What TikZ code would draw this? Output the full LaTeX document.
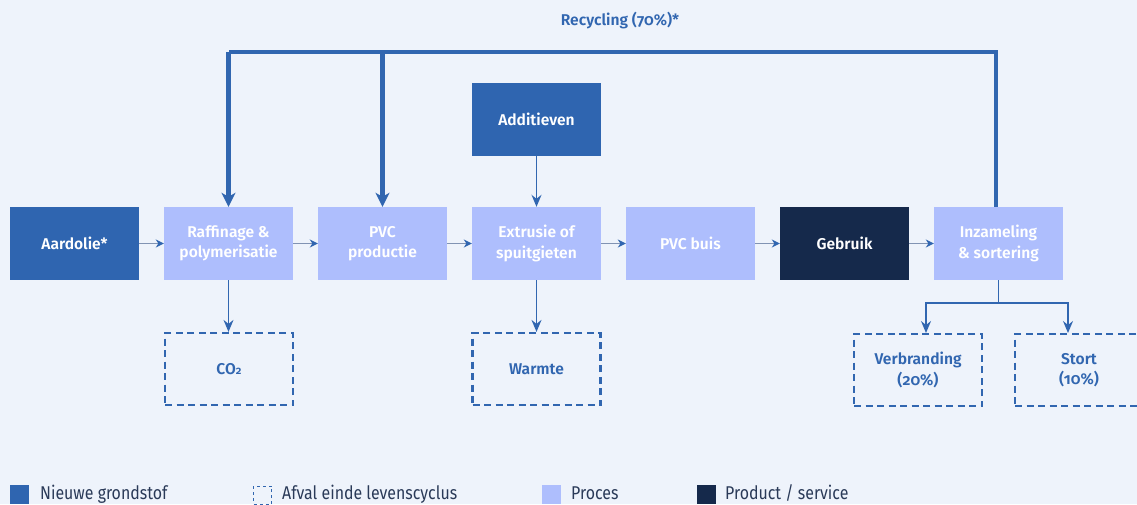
\documentclass[tikz,border=0pt]{standalone}
\usepackage{fontspec}
\setmainfont{Fira Sans}[BoldFont={Fira Sans SemiBold},Numbers=OldStyle]
\newfontfamily\legfont{Fira Sans}[FakeStretch=0.86,Numbers=OldStyle]
\usetikzlibrary{arrows.meta}

\definecolor{bgcol}{HTML}{EEF3FB}
\definecolor{rawblue}{HTML}{2F65B0}
\definecolor{proccol}{HTML}{AEBEFD}
\definecolor{prodcol}{HTML}{15294B}
\definecolor{wastecol}{HTML}{3166B0}
\definecolor{flowgray}{HTML}{8193B3}
\definecolor{legtext}{HTML}{2A3A58}

\tikzset{
  boxlabel/.style={font=\bfseries\fontsize{15.6}{20.5}\selectfont, align=center},
  basebox/.style={rectangle, minimum width=129pt, minimum height=73pt, inner sep=0pt, boxlabel},
  rawbox/.style={basebox, fill=rawblue, text=white},
  procbox/.style={basebox, fill=proccol, text=white},
  prodbox/.style={basebox, fill=prodcol, text=white},
  wastebox/.style={basebox, minimum width=128pt, minimum height=72pt, draw=wastecol,
    line width=2.2pt, dash pattern=on 7pt off 4.5pt, text=wastecol},
  flow/.style={draw=flowgray, line width=1.8pt, -{Stealth[length=8pt,width=8pt,color=wastecol]}},
  drop/.style={draw=wastecol, line width=1.5pt, -{Stealth[length=12pt,width=10pt,inset=4pt]}},
  recyc/.style={draw=wastecol, line width=4.5pt},
  recyctip/.style={recyc, -{Stealth[length=14pt,width=14pt,inset=4pt]}},
  legsquare/.style={rectangle, minimum size=19pt, inner sep=0pt},
  legtxt/.style={anchor=base west, text=legtext, font=\legfont\fontsize{18.5}{20}\selectfont, inner sep=0pt}
}

\begin{document}
\begin{tikzpicture}[x=1pt,y=-1pt]
  \fill[bgcol] (0,0) rectangle (1137,504);
  \useasboundingbox (0,0) rectangle (1137,504);
  \clip (0,0) rectangle (1137,504);

  % main process chain
  \node[rawbox]  (aard) at (74.5,243.5)  {Aardolie*};
  \node[procbox] (raf)  at (228.5,243.5) {Raffinage \&\\polymerisatie};
  \node[procbox] (pvc)  at (382.5,243.5) {PVC\\productie};
  \node[procbox] (ext)  at (536.5,243.5) {Extrusie of\\spuitgieten};
  \node[procbox] (buis) at (690.5,243.5) {PVC buis};
  \node[prodbox] (geb)  at (844.5,243.5) {Gebruik};
  \node[procbox] (inz)  at (998.5,243.5) {Inzameling\\\& sortering};

  \node[rawbox] (add) at (536.5,119.5) {Additieven};

  % waste outputs
  \node[wastebox] (co2)  at (229,369)   {CO{\raisebox{-0.5pt}{\fontsize{11}{11}\selectfont 2}}};
  \node[wastebox] (warm) at (536.5,369) {Warmte};
  \node[wastebox] (verb) at (918,370)   {Verbranding\\(20\%)};
  \node[wastebox] (stort) at (1079,370) {Stort\\(10\%)};

  % flows between steps
  \draw[flow] (aard) -- (raf);
  \draw[flow] (raf) -- (pvc);
  \draw[flow] (pvc) -- (ext);
  \draw[flow] (ext) -- (buis);
  \draw[flow] (buis) -- (geb);
  \draw[flow] (geb) -- (inz);

  \draw[drop] (add) -- (ext);
  \draw[drop] (raf) -- (co2.north -| raf);
  \draw[drop] (ext) -- (warm);

  % split after collection
  \coordinate (split) at (998.5,303);
  \draw[wastecol, line width=1.5pt] (inz) -- (split);
  \draw[drop] (split) -| (926,333);
  \draw[drop] (split) -| (1068,333);

  % recycling loop
  \coordinate (top) at (0,52);
  \draw[recyc] (inz.north -| 996,0) |- (top -| raf);
  \draw[recyctip] (top -| raf) -- (raf.north);
  \draw[recyctip] (top -| pvc) -- (pvc.north);
  \node[boxlabel, text=wastecol] (rec) at (620,21) {Recycling (70\%)*};

  % legend
  \node[legsquare, fill=rawblue] (l1) at (19,494.5) {};
  \node[legtxt] (t1) at (40,499) {Nieuwe grondstof};
  \node[legsquare, draw=wastecol, line width=1pt, dash pattern=on 3pt off 3pt, minimum size=18pt] (l2) at (262.5,495) {};
  \node[legtxt] (t2) at (282,499) {Afval einde levenscyclus};
  \node[legsquare, fill=proccol] (l3) at (551.5,494.5) {};
  \node[legtxt] (t3) at (571,499) {Proces};
  \node[legsquare, fill=prodcol] (l4) at (706.5,494.5) {};
  \node[legtxt] (t4) at (725,499) {Product / service};
\end{tikzpicture}
\end{document}
